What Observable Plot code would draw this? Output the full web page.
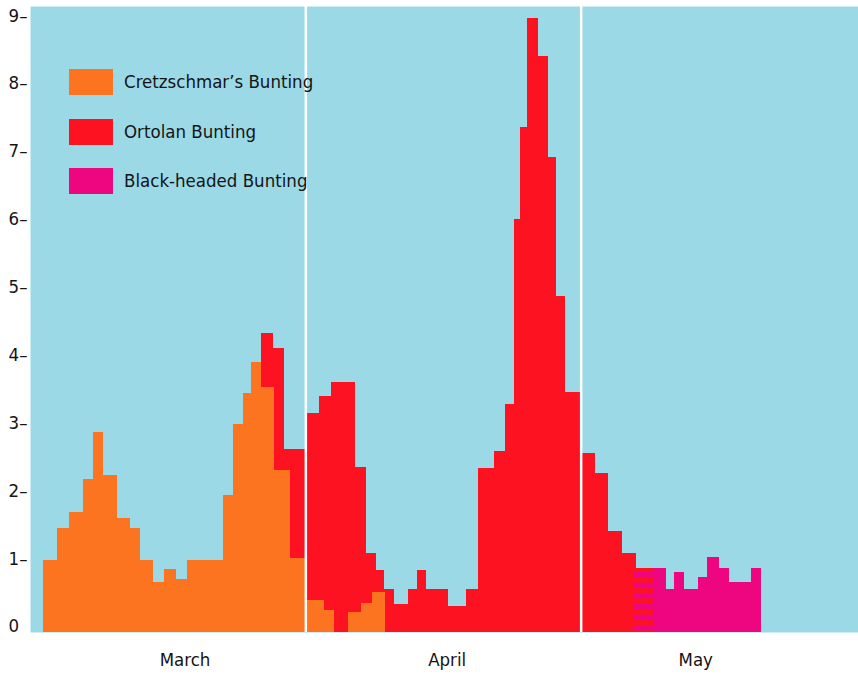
<!DOCTYPE html>
<html><head><meta charset="utf-8">
<script src="https://cdn.jsdelivr.net/npm/d3@7"></script>
<script src="https://cdn.jsdelivr.net/npm/@observablehq/plot@0.6"></script>
<style>
body{margin:0;background:#fff;}
#wrap{position:relative;width:858px;height:675px;font-family:"DejaVu Sans Condensed","Liberation Sans Narrow","DejaVu Sans",sans-serif;font-stretch:condensed;color:#141414}
#legend{position:absolute;left:69px;top:69px;display:flex;flex-direction:column;gap:23.5px}
.row{display:flex;align-items:center;height:26px}
.sw{width:44px;height:26px;margin-right:11px}
.lab{font-size:18.5px;line-height:26px;}
</style></head>
<body><div id="wrap"></div>
<script>
// Axis / labels
const months = ["March", "April", "May"];
const monthDays = [31, 30, 31];
const monthLabelDay = [17.4, 46.4, 73.9];   // day index (0 = 1 March) where each month name sits
const monthBoundaries = [31, 61];            // 1 April, 1 May
const yTicks = [0, 1, 2, 3, 4, 5, 6, 7, 8, 9];
const seriesNames = ["Cretzschmar’s Bunting", "Ortolan Bunting", "Black-headed Bunting"];
const seriesColors = ["#FD7420", "#FC1221", "#EE0580"];

// Cretzschmar's Bunting (bins: start day, end day, value); day 0 = 1 March
const cretzStart = [1.49, 3.07, 4.41, 5.92, 7.04, 8.23, 9.81, 11.31, 12.43, 13.85, 15.09, 16.48, 17.67, 19.0, 20.33, 21.71, 22.91, 23.96, 24.86, 26.06, 27.52, 29.32, 31, 33.0, 35.63, 37.02, 38.30];
const cretzEnd   = [3.07, 4.41, 5.92, 7.04, 8.23, 9.81, 11.31, 12.43, 13.85, 15.09, 16.48, 17.67, 19.0, 20.33, 21.71, 22.91, 23.96, 24.86, 26.06, 27.52, 29.32, 31, 33.0, 34.07, 37.02, 38.30, 39.70];
const cretzValue = [1.06, 1.53, 1.77, 2.26, 2.94, 2.32, 1.68, 1.53, 1.06, 0.73, 0.93, 0.78, 1.06, 1.06, 1.06, 2.02, 3.06, 3.52, 3.98, 3.61, 2.39, 1.09, 0.47, 0.32, 0.29, 0.42, 0.59];

// Ortolan Bunting
const ortolanStart = [26.06, 27.33, 28.56, 31, 32.46, 33.85, 36.37, 37.62, 38.72, 39.59, 40.69, 42.24, 43.12, 44.17, 46.55, 48.55, 49.86, 51.58, 52.71, 53.70, 54.35, 55.16, 56.37, 57.39, 58.34, 59.25, 61, 62.64, 64.09, 65.61, 67.24];
const ortolanEnd   = [27.33, 28.56, 31, 32.46, 33.85, 36.37, 37.62, 38.72, 39.59, 40.69, 42.24, 43.12, 44.17, 46.55, 48.55, 49.86, 51.58, 52.71, 53.70, 54.35, 55.16, 56.37, 57.39, 58.34, 59.25, 61, 62.64, 64.09, 65.61, 67.24, 69.14];
const ortolanValue = [4.41, 4.18, 2.69, 3.22, 3.47, 3.69, 2.43, 1.17, 0.91, 0.64, 0.41, 0.64, 0.91, 0.64, 0.38, 0.64, 2.41, 2.67, 3.36, 6.08, 7.44, 9.04, 8.48, 7.00, 4.95, 3.53, 2.64, 2.34, 1.49, 1.16, 0.95];

// Black-headed Bunting
const blackStart = [66.94, 69.14, 70.62, 71.52, 72.67, 74.19, 75.24, 76.53, 77.73, 80.21];
const blackEnd   = [69.14, 70.62, 71.52, 72.67, 74.19, 75.24, 76.53, 77.73, 80.21, 81.26];
const blackValue = [0.88, 0.94, 0.64, 0.89, 0.63, 0.81, 1.11, 0.94, 0.74, 0.94];

// day index -> position in months (each month one unit, as on the chart)
function toMonths(day) {
  let m = 0, start = 0;
  while (m < monthDays.length - 1 && day >= start + monthDays[m]) { start += monthDays[m]; m++; }
  return m + (day - start) / monthDays[m];
}

const toBars = (s, e, v) => s.map((d, i) => ({x1: toMonths(d), x2: toMonths(e[i]), y: v[i], s: d, e: e[i]}));
const cretz = toBars(cretzStart, cretzEnd, cretzValue);
const ortolan = toBars(ortolanStart, ortolanEnd, ortolanValue);
const blackHeaded = toBars(blackStart, blackEnd, blackValue)
  .map(d => ({...d, overlap: ortolan.some(o => o.s < d.e - 1e-6 && o.e > d.s + 1e-6)}));

const barOpts = {x1: "x1", x2: "x2", y1: 0, y2: "y", shapeRendering: "crispEdges"};

const plot = Plot.plot({
  width: 858, height: 675,
  marginLeft: 30, marginRight: 0, marginTop: 6, marginBottom: 43,
  x: {domain: [0, 3], range: [30, 856], axis: null},
  y: {domain: [0, 9.223], axis: null},
  style: {fontFamily: '"DejaVu Sans Condensed","Liberation Sans Narrow","DejaVu Sans",sans-serif', fontStretch: "condensed", fontSize: "18px", color: "#141414", background: "white"},
  marks: [
    Plot.frame({fill: "#9BD9E7", stroke: null}),
    Plot.rect(ortolan, {...barOpts, fill: seriesColors[1]}),
    Plot.rect(cretz, {...barOpts, fill: seriesColors[0]}),
    Plot.rect(blackHeaded.filter(d => !d.overlap), {...barOpts, fill: seriesColors[2]}),
    Plot.rect(blackHeaded.filter(d => d.overlap), {...barOpts, fill: "url(#bh-hatch)"}),
    Plot.ruleX(monthBoundaries.map(toMonths), {stroke: "white", strokeWidth: 2.5}),
    Plot.axisY(yTicks, {tickSize: 0, tickPadding: 3, dy: -6, fontSize: 18.5, fill: "#141414", label: null,
      tickFormat: d => d === 0 ? "0\u2002" : d + "\u2013"}),
    Plot.text(months, {x: (d, i) => toMonths(monthLabelDay[i]), text: d => d, frameAnchor: "bottom", dy: 33, fontSize: 18.5, fill: "#141414"})
  ]
});

// hatch pattern for Black-headed bins overlapping Ortolan bins
const defs = document.createElementNS("http://www.w3.org/2000/svg", "defs");
defs.innerHTML = `<pattern id="bh-hatch" patternUnits="userSpaceOnUse" x="0" y="6.67" width="10" height="10.667"><rect x="0" y="0" width="10" height="5" fill="${seriesColors[2]}"/></pattern>`;
plot.insertBefore(defs, plot.firstChild);

const wrap = document.getElementById("wrap");
wrap.appendChild(plot);

const legend = document.createElement("div");
legend.id = "legend";
seriesNames.forEach((name, i) => {
  const row = document.createElement("div");
  row.className = "row";
  const sw = document.createElement("div");
  sw.className = "sw";
  sw.style.background = seriesColors[i];
  const lab = document.createElement("span");
  lab.className = "lab";
  lab.textContent = name;
  row.appendChild(sw); row.appendChild(lab);
  legend.appendChild(row);
});
wrap.appendChild(legend);
</script></body></html>
